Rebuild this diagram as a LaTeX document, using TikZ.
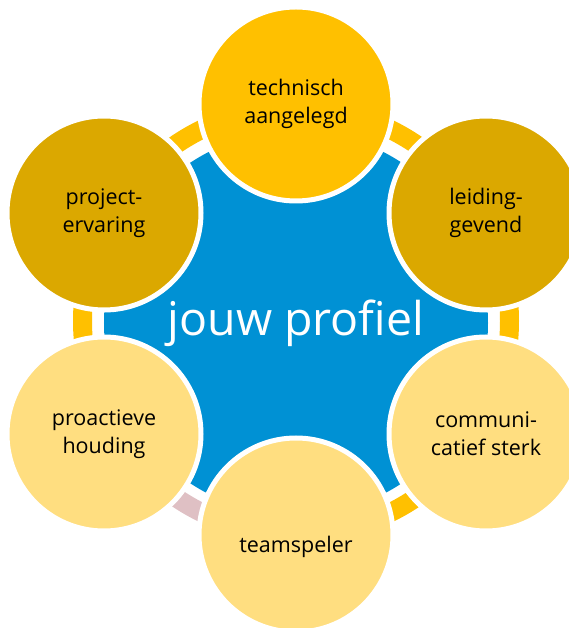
\documentclass[tikz,border=0pt]{standalone}
\usepackage{fontspec}
\setmainfont{Open Sans}
\usetikzlibrary{positioning}

\definecolor{profblue}{RGB}{0,145,212}
\definecolor{gold}{RGB}{255,192,0}
\definecolor{darkgold}{RGB}{219,168,0}
\definecolor{lightgold}{RGB}{255,222,128}
\definecolor{ringpink}{RGB}{223,192,196}

\begin{document}
\begin{tikzpicture}[x=1pt, y=1pt,
    bignode/.style={circle, fill=profblue, minimum size=384pt, inner sep=0pt, text=white, font=\fontsize{46.5}{56}\selectfont},
    roundnode/.style={circle, draw=white, line width=5pt, minimum size=194pt, inner sep=0pt, align=center, font=\fontsize{21.5}{28}\selectfont}]
    \useasboundingbox (-296,321) rectangle (273,-307);

    \node[bignode] (mid) at (0,-2) {jouw profiel};

    % stukjes ring tussen de cirkels
    \foreach \a/\c in {0/gold, 60/gold, 120/gold, 180/gold, 240/ringpink, 300/gold}
        \fill[\c] (\a-15:204) arc[start angle=\a-15, end angle=\a+15, radius=204]
            -- (\a+15:223) arc[start angle=\a+15, end angle=\a-15, radius=223] -- cycle;

    \node[roundnode, fill=gold] (tech) at (0,217) {technisch\\aangelegd};
    \node[roundnode, fill=darkgold] (lead) at (190,108) {leiding-\\gevend};
    \node[roundnode, fill=lightgold] (comm) at (190,-113) {communi-\\catief sterk};
    \node[roundnode, fill=lightgold, text height=40pt, text depth=5pt] (team) at (0,-214) {teamspeler};
    \node[roundnode, fill=lightgold] (proa) at (-192,-113) {proactieve\\houding};
    \node[roundnode, fill=darkgold] (proj) at (-192,108) {project-\\ervaring};
\end{tikzpicture}
\end{document}
